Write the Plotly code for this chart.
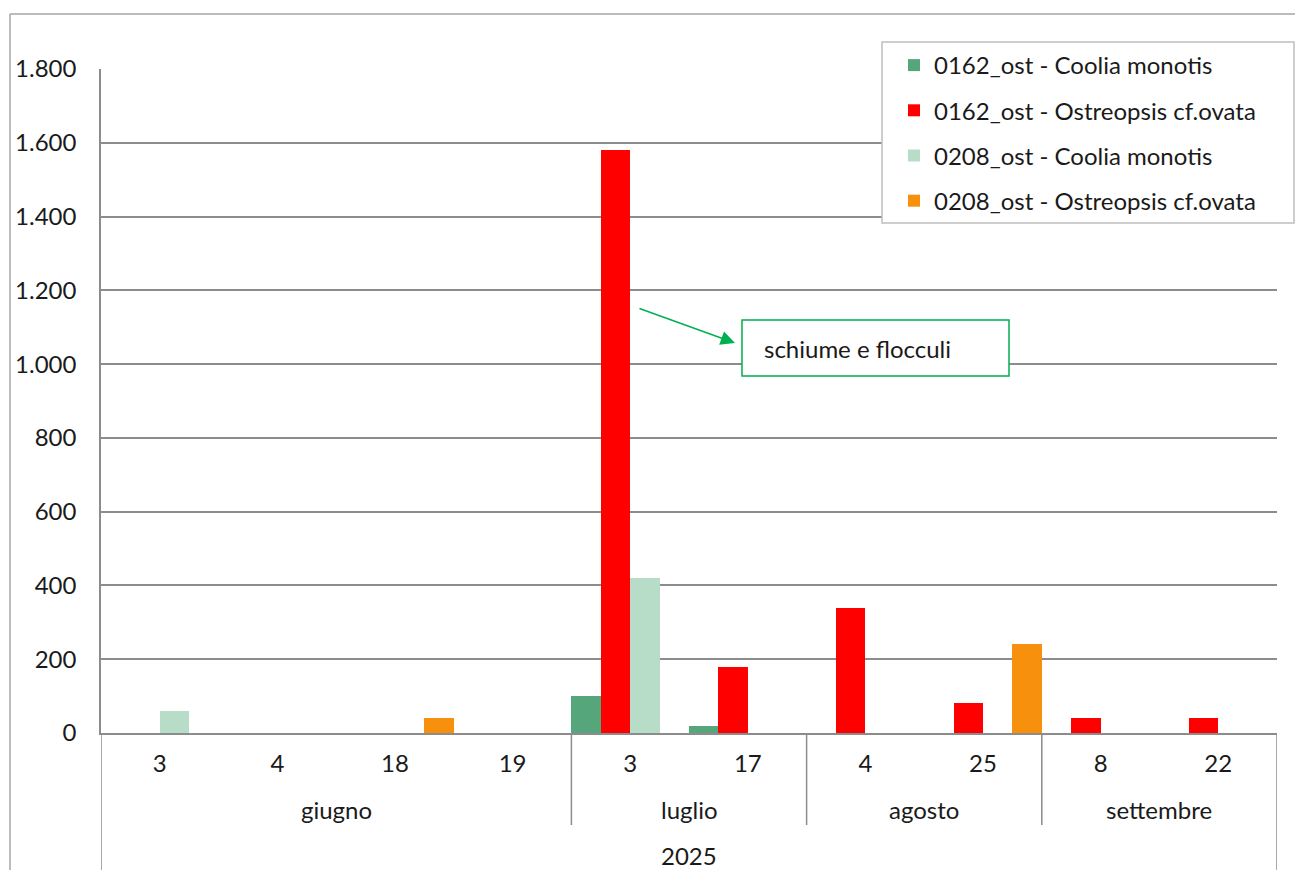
import plotly.graph_objects as go

# Sampling dates (month / day) and year
months = ["giugno", "giugno", "giugno", "giugno", "luglio", "luglio",
          "agosto", "agosto", "settembre", "settembre"]
days = ["3", "4", "18", "19", "3", "17", "4", "25", "8", "22"]
year = "2025"

# Cell counts per station / species (None = not detected)
coolia_0162 = [None, None, None, None, 100, 20, None, None, None, None]
ostreopsis_0162 = [None, None, None, None, 1580, 180, 340, 80, 40, 40]
coolia_0208 = [60, None, None, None, 420, None, None, None, None, None]
ostreopsis_0208 = [None, None, 40, None, None, None, None, 240, None, None]

series_names = [
    "0162_ost - Coolia monotis",
    "0162_ost - Ostreopsis cf.ovata",
    "0208_ost - Coolia monotis",
    "0208_ost - Ostreopsis cf.ovata",
]
series_values = [coolia_0162, ostreopsis_0162, coolia_0208, ostreopsis_0208]
series_colors = ["#55A67B", "#FF0000", "#B7DCC8", "#F7900D"]

FONT = "Century Gothic, Lato, sans-serif"
FS = 24
TXT = "#1A1A1A"
GRID = "#8C8C8C"
xpos = list(range(len(days)))

fig = go.Figure()
for i, (name, vals, col) in enumerate(zip(series_names, series_values, series_colors)):
    fig.add_trace(go.Bar(
        x=xpos, y=vals, name=name, marker=dict(color=col, line=dict(width=0)),
        legendgroup=f"g{i}",
    ))

# Plot-area geometry in pixels (for paper-coordinate decorations)
W, H = 1295, 870
L, R, T, B = 101, 1277, 69, 733
pw, ph = R - L, B - T


def px_x(x):
    return (x - L) / pw


def px_y(y):
    return (B - y) / ph


shapes = []
# chart frame (top and left edges)
shapes.append(dict(type="line", xref="paper", yref="paper",
                   x0=px_x(10), x1=px_x(W + 5), y0=px_y(14), y1=px_y(14),
                   line=dict(color="#A6A6A6", width=1.5)))
shapes.append(dict(type="line", xref="paper", yref="paper",
                   x0=px_x(10), x1=px_x(10), y0=px_y(14), y1=px_y(H + 5),
                   line=dict(color="#A6A6A6", width=1.5)))

# category axis: outer edges run down through the year row
for xe in (-0.5, len(days) - 0.5):
    shapes.append(dict(type="line", xref="x", yref="paper",
                       x0=xe, x1=xe, y0=0, y1=px_y(H + 5),
                       line=dict(color=GRID, width=1.5)))

# month groups: dividers and labels
annotations = []
groups = []
for i, m in enumerate(months):
    if groups and groups[-1][0] == m:
        groups[-1][2] = i
    else:
        groups.append([m, i, i])
for gi, (m, a, b) in enumerate(groups):
    annotations.append(dict(text=m, x=(a + b) / 2, xref="x", y=px_y(810), yref="paper",
                            showarrow=False, xanchor="center", yanchor="middle",
                            font=dict(family=FONT, size=FS, color=TXT)))
    if gi > 0:
        shapes.append(dict(type="line", xref="x", yref="paper",
                           x0=a - 0.5, x1=a - 0.5, y0=0, y1=px_y(825),
                           line=dict(color=GRID, width=1.5)))

annotations.append(dict(text=year, x=(len(days) - 1) / 2, xref="x", y=px_y(855), yref="paper",
                        showarrow=False, xanchor="center", yanchor="middle",
                        font=dict(family=FONT, size=FS, color=TXT)))

# legend frame
shapes.append(dict(type="rect", xref="paper", yref="paper", layer="above",
                   x0=px_x(882), x1=px_x(1294), y0=px_y(42), y1=px_y(223),
                   line=dict(color="#BFBFBF", width=1.5), fillcolor="white"))

# callout
shapes.append(dict(type="rect", xref="paper", yref="paper", layer="above",
                   x0=px_x(742), x1=px_x(1009), y0=px_y(320), y1=px_y(376),
                   line=dict(color="#00B050", width=1.5), fillcolor="white"))
annotations.append(dict(text="schiume e flocculi", x=px_x(762), y=px_y(348),
                        xref="paper", yref="paper", showarrow=False,
                        xanchor="left", yanchor="middle",
                        font=dict(family=FONT, size=FS, color=TXT)))
annotations.append(dict(text="", x=px_x(735), y=px_y(343), xref="paper", yref="paper",
                        showarrow=True, ax=-97, ay=-35, arrowhead=2, arrowsize=1.9,
                        arrowwidth=1.5, arrowcolor="#00B050", standoff=0))

fig.update_layout(
    width=W, height=H,
    margin=dict(l=L, r=W - R, t=T, b=H - B),
    paper_bgcolor="white", plot_bgcolor="white",
    separators=",.",
    barmode="group", bargap=0, bargroupgap=0,
    font=dict(family=FONT, size=FS, color=TXT),
    shapes=shapes, annotations=annotations,
    legend=dict(
        x=px_x(882), y=px_y(43), xanchor="left", yanchor="top",
        bgcolor="rgba(0,0,0,0)", borderwidth=0,
        font=dict(family=FONT, size=FS, color=TXT),
        traceorder="grouped", tracegroupgap=11, indentation=12,
    ),
    xaxis=dict(
        range=[-0.5, len(days) - 0.5], tickmode="array", tickvals=xpos, ticktext=days,
        showgrid=False, zeroline=False, showline=True, linecolor=GRID, linewidth=1.5,
        ticks="", ticklabelstandoff=8, tickfont=dict(family=FONT, size=FS, color=TXT),
        fixedrange=True,
    ),
    yaxis=dict(
        range=[0, 1800], dtick=200, tickformat=",d",
        showgrid=True, gridcolor=GRID, gridwidth=1.5,
        zeroline=False, showline=True, linecolor=GRID, linewidth=1.5,
        ticks="", ticklabelstandoff=18, tickfont=dict(family=FONT, size=FS, color=TXT),
        fixedrange=True,
    ),
)

fig.write_html("out.html")
